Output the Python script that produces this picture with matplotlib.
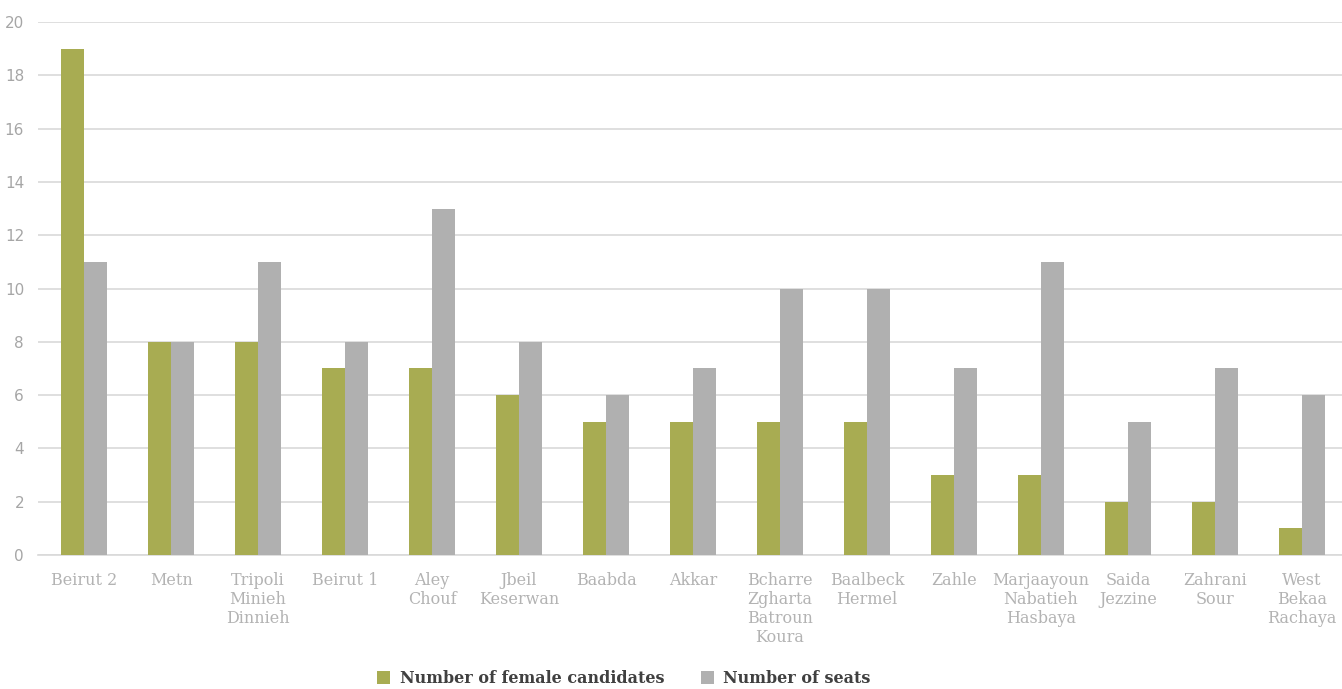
import matplotlib.pyplot as plt
import numpy as np

districts = ["Beirut 2", "Metn", "Tripoli\nMinieh\nDinnieh", "Beirut 1", "Aley\nChouf",
             "Jbeil\nKeserwan", "Baabda", "Akkar", "Bcharre\nZgharta\nBatroun\nKoura",
             "Baalbeck\nHermel", "Zahle", "Marjaayoun\nNabatieh\nHasbaya", "Saida\nJezzine",
             "Zahrani\nSour", "West\nBekaa\nRachaya"]
female_candidates = [19, 8, 8, 7, 7, 6, 5, 5, 5, 5, 3, 3, 2, 2, 1]
seats = [11, 8, 11, 8, 13, 8, 6, 7, 10, 10, 7, 11, 5, 7, 6]
yticks = [0, 2, 4, 6, 8, 10, 12, 14, 16, 18, 20]

green = "#a8ac52"
grey = "#b0b0b0"
label_grey = "#b3b3b3"

fig = plt.figure(figsize=(13.42, 6.89), dpi=100)
ax = fig.add_axes([0.0283, 0.1945, 0.9717, 0.7735])

x = np.arange(len(districts))
w = 0.265
ax.bar(x - w / 2, female_candidates, w, color=green, label="Number of female candidates", zorder=3)
ax.bar(x + w / 2, seats, w, color=grey, label="Number of seats", zorder=3)

ax.set_xlim(-0.53, len(districts) - 0.54)
ax.set_ylim(0, 20)
ax.set_yticks(yticks)
ax.yaxis.grid(True, color="#d9d9d9", linewidth=1.2, zorder=0)
for s in ["top", "right", "left"]:
    ax.spines[s].set_visible(False)
ax.spines["bottom"].set_color("#d9d9d9")
ax.spines["bottom"].set_linewidth(1.2)

ax.tick_params(axis="y", length=0, pad=10, labelsize=11, labelcolor="#a6a6a6")
ax.tick_params(axis="x", length=0, pad=12)
ax.set_xticks(x)
ax.set_xticklabels(districts, family="DejaVu Serif", fontsize=11.5,
                   color=label_grey, linespacing=1.15, va="top")

leg = fig.legend(loc="lower center", ncol=2, frameon=False, bbox_to_anchor=(0.465, -0.018),
                 handlelength=0.8, handleheight=0.8, columnspacing=2.3, handletextpad=0.6,
                 prop={"family": "DejaVu Serif", "weight": "bold", "size": 11.5})
for t in leg.get_texts():
    t.set_color("#404040")

fig.savefig("out.png", dpi=100)
